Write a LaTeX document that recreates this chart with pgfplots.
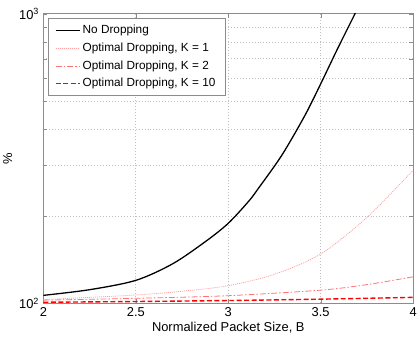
\documentclass[border=0pt]{standalone}
\usepackage{pgfplots}
\pgfplotsset{compat=1.18}
\usepackage{fontspec}
\setmainfont{Liberation Sans}
\begin{document}
\begin{tikzpicture}
\begin{axis}[
  scale only axis, width=373pt, height=292pt,
  xmin=2, xmax=4, ymin=100, ymax=1000, ymode=log,
  xtick={2,2.5,3,3.5,4},
  ytick={100,1000}, yticklabels={10\textsuperscript{2},10\textsuperscript{3}},
  minor ytick={200,300,400,500,600,700,800,900},
  xmajorgrids, yminorgrids,
  major grid style={dash pattern=on 1pt off 2pt, black!25, line width=0.8pt},
  minor grid style={dash pattern=on 1pt off 2pt, black!25, line width=0.8pt},
  tick align=inside, major tick length=4pt, minor tick length=4pt,
  axis line style={black!45, line width=0.8pt}, every tick/.style={black!45},
  /pgf/number format/assume math mode=true,
  ticklabel style={font=\fontsize{13}{15}\selectfont, black},
  xticklabel style={yshift=-1pt},
  yticklabel style={xshift=-1pt},
  label style={font=\fontsize{13}{15}\selectfont},
  xlabel style={yshift=2pt},
  xlabel={Normalized Packet Size, B}, ylabel={\%},
  legend cell align=left,
  legend image code/.code={\draw[#1] (0pt,0pt) -- (24pt,0pt);},
  legend style={at={(0.012,0.983)}, anchor=north west, draw=none, fill=white, name=leg,
    font=\fontsize{11.9}{13}\selectfont, row sep=0pt, inner xsep=7pt, inner ysep=3pt,
    nodes={inner sep=2.5pt, text height=9.5pt, text depth=3.3pt}},
]
\addplot[draw=black, line width=1.3pt, smooth] coordinates {
(2.0,106.5) (2.25,111.4) (2.5,120) (2.7,137) (2.88,164) (3.0,189) (3.11,225) (3.164,250) (3.29,325) (3.414,445) (3.5,573) (3.59,755) (3.685,1000) (3.75,1230)};
\addlegendentry{No Dropping}
\addplot[draw=red!38, line width=0.8pt, dash pattern=on 1pt off 1pt, smooth] coordinates {
(2.0,103) (2.25,104.8) (2.5,106.8) (2.75,110) (3.0,115) (3.25,126) (3.5,148) (3.75,198) (4.0,288)};
\addlegendentry{Optimal Dropping, K = 1}
\addplot[draw=red!55, line width=0.8pt, dash pattern=on 6pt off 2pt on 1.5pt off 2pt, smooth] coordinates {
(2.0,102.5) (2.5,104) (3.0,106.2) (3.5,111) (3.75,116) (4.0,123.4)};
\addlegendentry{Optimal Dropping, K = 2}
\addplot[draw=red, line width=1.4pt, dash pattern=on 5pt off 2.5pt, smooth] coordinates {
(2.0,100.8) (2.5,101.4) (3.0,102.2) (3.5,103.3) (4.0,104.8)};
\addlegendentry{Optimal Dropping, K = 10}
\end{axis}
\draw[black!45, line width=0.6pt] (leg.south west) rectangle (leg.north east);
\path ([xshift=-43pt,yshift=-39pt]current axis.south west) rectangle ([xshift=4pt,yshift=14pt]current axis.north east);
\end{tikzpicture}
\end{document}
